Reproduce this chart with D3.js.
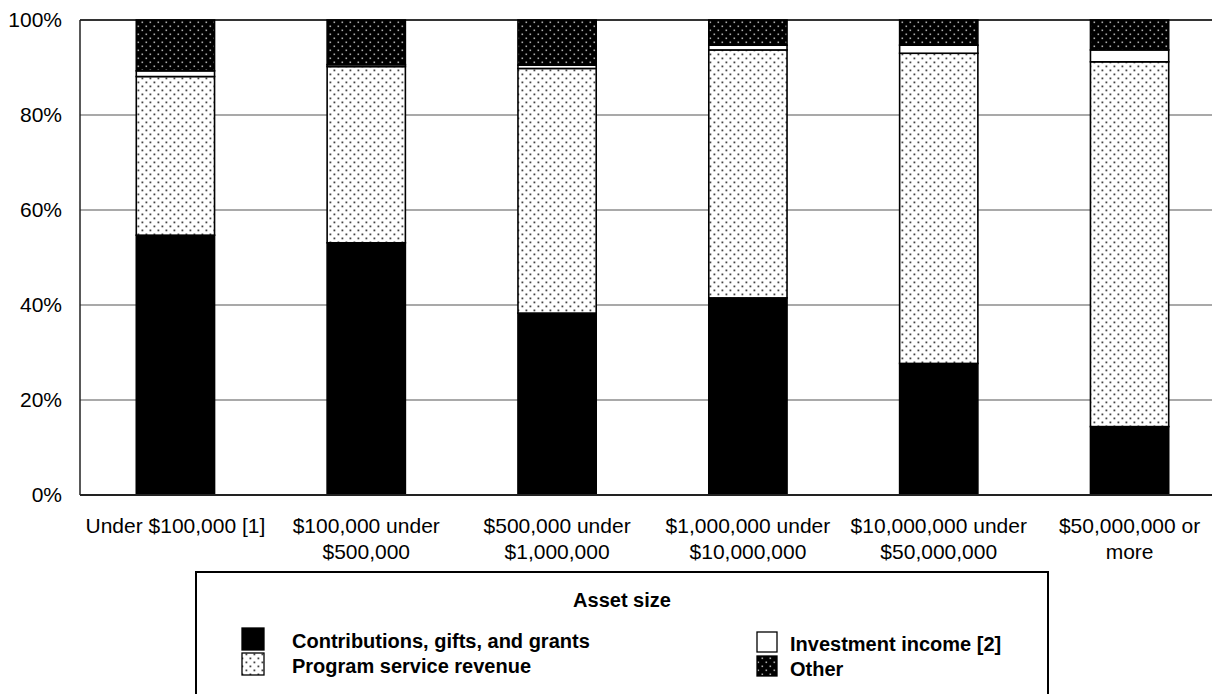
<!DOCTYPE html>
<html><head><meta charset="utf-8">
<script src="https://cdn.jsdelivr.net/npm/d3@7"></script>
<style>body{margin:0;background:#fff}svg{display:block}text{font-family:"Liberation Sans",Arial,sans-serif;fill:#000}</style>
</head><body><svg id="c" width="1212" height="694"></svg>
<script>
const categories = ["Under $100,000 [1]", "$100,000 under|$500,000", "$500,000 under|$1,000,000", "$1,000,000 under|$10,000,000", "$10,000,000 under|$50,000,000", "$50,000,000 or|more"];
const contributions = [54.7, 53.1, 38.3, 41.5, 27.7, 14.4];
const programRevenue = [33.4, 37.1, 51.5, 52.2, 65.3, 76.8];
const investmentIncome = [1.2, 0.4, 0.7, 1.0, 1.7, 2.5];
const other = [10.7, 9.4, 9.5, 5.3, 5.3, 6.3];
const yTicks = [0, 20, 40, 60, 80, 100];
const seriesNames = ["Contributions, gifts, and grants", "Program service revenue", "Investment income [2]", "Other"];
const legendTitle = "Asset size";

const svg = d3.select("#c");
const defs = svg.append("defs");
const p1 = defs.append("pattern").attr("id","dotsLight").attr("patternUnits","userSpaceOnUse").attr("width",8).attr("height",8);
p1.append("rect").attr("width",8).attr("height",8).attr("fill","#fff");
p1.append("rect").attr("x",1.5).attr("y",1.5).attr("width",1.8).attr("height",1.8).attr("fill","#444");
p1.append("rect").attr("x",5.5).attr("y",5.5).attr("width",1.8).attr("height",1.8).attr("fill","#444");
const p2 = defs.append("pattern").attr("id","dotsDark").attr("patternUnits","userSpaceOnUse").attr("width",8).attr("height",8);
p2.append("rect").attr("width",8).attr("height",8).attr("fill","#000");
p2.append("rect").attr("x",1.5).attr("y",1.5).attr("width",1.6).attr("height",1.6).attr("fill","#aaa");
p2.append("rect").attr("x",5.5).attr("y",5.5).attr("width",1.6).attr("height",1.6).attr("fill","#aaa");

const fills = ["#000", "url(#dotsLight)", "#fff", "url(#dotsDark)"];
const seriesVals = [contributions, programRevenue, investmentIncome, other];

const x = d3.scaleBand().domain(categories).range([80, 1225]).paddingInner(0.59).paddingOuter(0.295);
const y = d3.scaleLinear().domain([0, 100]).range([495, 20]);

// gridlines
svg.append("g").selectAll("line").data(yTicks.filter(d => d > 0)).join("line")
  .attr("x1", 80).attr("x2", 1212).attr("y1", d => y(d)).attr("y2", d => y(d))
  .attr("stroke", d => d === 100 ? "#333" : "#555").attr("stroke-width", d => d === 100 ? 2 : 1.2);

// y labels
svg.append("g").selectAll("text").data(yTicks).join("text")
  .attr("x", 62).attr("y", d => y(d)).attr("dy", "0.35em").attr("text-anchor", "end")
  .style("font-size", "21px").text(d => d + "%");

// stacked bars
const rows = categories.map((c, i) => {
  const o = {cat: c};
  seriesNames.forEach((s, j) => o[s] = seriesVals[j][i]);
  return o;
});
const stack = d3.stack().keys(seriesNames)(rows);
stack.forEach((layer, j) => {
  svg.append("g").selectAll("rect").data(layer).join("rect")
    .attr("x", d => x(d.data.cat)).attr("width", x.bandwidth())
    .attr("y", d => y(d[1])).attr("height", d => y(d[0]) - y(d[1]))
    .attr("fill", fills[j]).attr("stroke", "#000").attr("stroke-width", 1.6);
});

// axes lines
svg.append("line").attr("x1", 80).attr("x2", 80).attr("y1", 20).attr("y2", 495).attr("stroke", "#222").attr("stroke-width", 1.5);
svg.append("line").attr("x1", 80).attr("x2", 1212).attr("y1", 495).attr("y2", 495).attr("stroke", "#222").attr("stroke-width", 2);

// x labels
const xl = svg.append("g").selectAll("text").data(categories).join("text")
  .attr("text-anchor", "middle").style("font-size", "21px")
  .attr("transform", d => `translate(${x(d) + x.bandwidth()/2},533)`);
xl.each(function(d) {
  d.split("|").forEach((t, k) => d3.select(this).append("tspan").attr("x", 0).attr("y", k * 26).text(t));
});

// legend
const lg = svg.append("g");
lg.append("rect").attr("x", 196).attr("y", 572).attr("width", 852).attr("height", 140)
  .attr("fill", "#fff").attr("stroke", "#000").attr("stroke-width", 2);
lg.append("text").attr("x", 622).attr("y", 607).attr("text-anchor", "middle")
  .style("font-size", "20px").style("font-weight", "bold").text(legendTitle);
const legPos = [
  {sx: 242, sy: 628, tx: 292, ty: 648},
  {sx: 242, sy: 653, tx: 292, ty: 673},
  {sx: 757, sy: 632, tx: 790, ty: 651},
  {sx: 757, sy: 656, tx: 790, ty: 676}
];
seriesNames.forEach((s, j) => {
  const p = legPos[j];
  lg.append("rect").attr("x", p.sx).attr("y", p.sy).attr("width", j < 2 ? 22 : 20).attr("height", j < 2 ? 22 : 20)
    .attr("fill", fills[j]).attr("stroke", "#000").attr("stroke-width", 1.3);
  lg.append("text").attr("x", p.tx).attr("y", p.ty).style("font-size", "20px").style("font-weight", "bold").text(s);
});
</script></body></html>
